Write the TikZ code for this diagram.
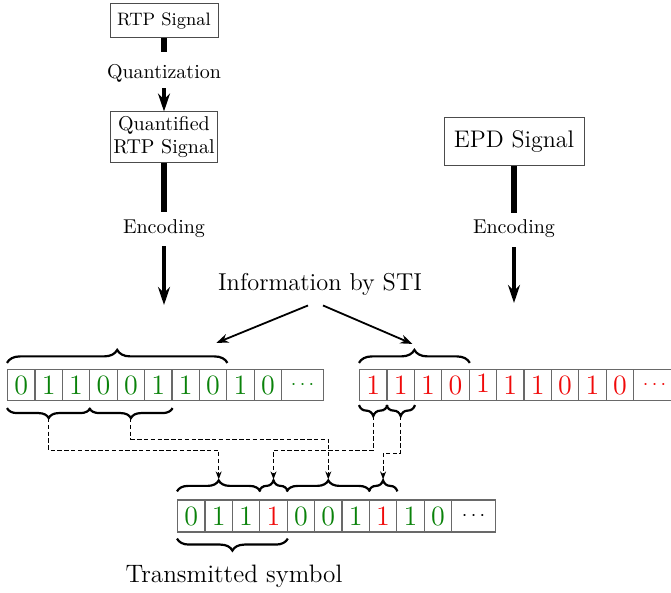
\documentclass[tikz,border=0pt]{standalone}
\usetikzlibrary{arrows.meta,decorations.pathreplacing,calc}
\definecolor{bitgreen}{RGB}{10,130,10}
\definecolor{bitred}{RGB}{240,10,10}
\definecolor{cellgray}{RGB}{105,105,105}
\begin{document}
\begin{tikzpicture}[x=0.5pt,y=-0.5pt,
  sigbox/.style={draw=black!70, line width=0.5pt, inner sep=0pt, align=center},
  lbl/.style={inner sep=0pt, font=\fontsize{10}{12}\selectfont},
  stub/.style={line width=2.6pt},
  bigarrow/.style={line width=2pt, -{Stealth[length=9pt,width=6pt]}},
  infoarrow/.style={line width=0.9pt, -{Stealth[length=6pt,width=4.5pt]}},
  bitcell/.style={draw=cellgray, line width=0.6pt, minimum width=13.7pt, minimum height=15.5pt, inner sep=0pt, font=\fontsize{14}{14}\selectfont, anchor=west},
  dotcell/.style={bitcell, minimum width=21pt, font=\fontsize{10}{10}\selectfont},
  brcup/.style={decorate, decoration={brace, amplitude=#1}, line width=1.1pt},
  brcdown/.style={decorate, decoration={brace, mirror, amplitude=#1}, line width=1.1pt},
  conn/.style={line width=0.55pt, dash pattern=on 2.2pt off 1.2pt, -{Stealth[length=4pt,width=3pt]}, shorten >=0.5pt},
]
\useasboundingbox (0,0) rectangle (671,593);

% signal boxes and labels
\node[sigbox, minimum width=54pt, minimum height=17pt, font=\fontsize{9}{10}\selectfont] (rtp) at (164,21) {RTP Signal};
\node[lbl] (quant) at (164,73) {Quantization};
\node[sigbox, minimum width=53.5pt, minimum height=25.5pt, font=\fontsize{10}{11.5}\selectfont] (qrtp) at (164,137.5) {Quantified\\RTP Signal};
\node[lbl] (enc1) at (164,229) {Encoding};
\coordinate (e1end) at (164,305);

\node[sigbox, minimum width=70pt, minimum height=24pt, font=\fontsize{12}{14}\selectfont] (epd) at (514,142) {EPD Signal};
\node[lbl] (enc2) at (514,229) {Encoding};
\coordinate (e2end) at (514,303);

\draw[stub, shorten >=6pt] (rtp.south) -- (quant.north);
\draw[bigarrow, shorten <=3pt] (quant.south) -- (qrtp.north);
\draw[stub, shorten >=4pt] (qrtp.south) -- (enc1.north);
\draw[bigarrow, shorten <=4pt] (enc1.south) -- (e1end);
\draw[stub, shorten >=3.5pt] (epd.south) -- (enc2.north);
\draw[bigarrow, shorten <=4.5pt] (enc2.south) -- (e2end);

\node[inner sep=0pt, font=\fontsize{12.2}{14}\selectfont] (info) at (320,284) {Information by STI};
\node[inner sep=0pt, font=\fontsize{12.6}{14}\selectfont] (tsym) at (234,576) {Transmitted symbol};

% bit rows
\foreach \b/\c [count=\i from 0] in {0/bitgreen,1/bitgreen,1/bitgreen,0/bitgreen,0/bitgreen,1/bitgreen,1/bitgreen,0/bitgreen,1/bitgreen,0/bitgreen}
  \node[bitcell, text=\c] (L\i) at ({7+27.4*\i},385) {\b};
\node[dotcell, text=bitgreen] (L10) at (281,385) {$\cdots$};

\foreach \b/\c [count=\i from 0] in {1/bitred,1/bitred,1/bitred,0/bitred,{\raisebox{1.5pt}{1}}/bitred,1/bitred,1/bitred,0/bitred,1/bitred,0/bitred}
  \node[bitcell, text=\c] (R\i) at ({359+27.4*\i},385) {\b};
\node[dotcell, text=bitred] (R10) at (633,385) {$\cdots$};

\foreach \b/\c [count=\i from 0] in {0/bitgreen,1/bitgreen,1/bitgreen,1/bitred,0/bitgreen,0/bitgreen,1/bitgreen,1/bitred,1/bitgreen,0/bitgreen}
  \node[bitcell, minimum height=16pt, text=\c] (B\i) at ({177+27.4*\i},516) {\b};
\node[dotcell, minimum height=16pt, minimum width=22pt, text=black] (B10) at (451,516) {$\cdots$};

% braces
\draw[brcup=6.5pt] ([yshift=3pt]L0.north west) -- ([yshift=3pt]L7.north east);
\draw[brcup=6.5pt] ([yshift=3pt]R0.north west) -- ([yshift=3pt]R3.north east);
\draw[brcdown=5pt] ([yshift=-3.5pt]L0.south west) -- ([yshift=-3.5pt]L2.south east);
\draw[brcdown=5pt] ([yshift=-3.5pt]L3.south west) -- ([yshift=-3.5pt]L5.south east);
\draw[brcdown=5.5pt] ([yshift=-2pt]R0.south west) -- ([yshift=-2pt]R0.south east);
\draw[brcdown=5.5pt] ([yshift=-2pt]R1.south west) -- ([yshift=-2pt]R1.south east);
\draw[brcup=5.5pt] ([yshift=4pt]B0.north west) -- ([yshift=4pt]B2.north east);
\draw[brcup=5.5pt] ([yshift=4pt]B3.north west) -- ([yshift=4pt]B3.north east);
\draw[brcup=5.5pt] ([yshift=4pt]B4.north west) -- ([yshift=4pt]B6.north east);
\draw[brcup=5.5pt] ([yshift=4pt]B7.north west) -- ([yshift=4pt]B7.north east);
\draw[brcdown=6pt] ([yshift=-3pt]B0.south west) -- ([yshift=-3pt]B3.south east);

% brace tips
\coordinate (tl1) at ($(L0.south west)!.5!(L2.south east)+(0pt,-8.5pt)$);
\coordinate (tl2) at ($(L3.south west)!.5!(L5.south east)+(0pt,-8.5pt)$);
\coordinate (tr1) at ($(R0.south)+(0pt,-7.5pt)$);
\coordinate (tr2) at ($(R1.south)+(0pt,-7.5pt)$);
\coordinate (bt1) at ($(B1.north)+(0pt,9.5pt)$);
\coordinate (bt2) at ($(B3.north)+(0pt,9.5pt)$);
\coordinate (bt3) at ($(B5.north)+(0pt,9.5pt)$);
\coordinate (bt4) at ($(B7.north)+(0pt,9.5pt)$);
\coordinate (rtip) at ($(R0.north west)!.5!(R3.north east)+(0pt,12.5pt)$);
\coordinate (linfo) at ([xshift=-5.5pt,yshift=13pt]L7.north east);

% information arrows
\draw[infoarrow] ([xshift=-6pt,yshift=-5pt]info.south) -- (linfo);
\draw[infoarrow] ([xshift=1.5pt,yshift=-5pt]info.south) -- ([xshift=-1pt]rtip);

% dashed connectors
\draw[conn] (tl1) -- ++(0,32) -| (bt1);
\draw[conn] (tl2) -- ++(0,21) -| (bt3);
\draw[conn] (tr1) -- ++(0,34) -| (bt2);
\draw[conn] (tr2) -- ++(0,37) -| (bt4);
\end{tikzpicture}
\end{document}
